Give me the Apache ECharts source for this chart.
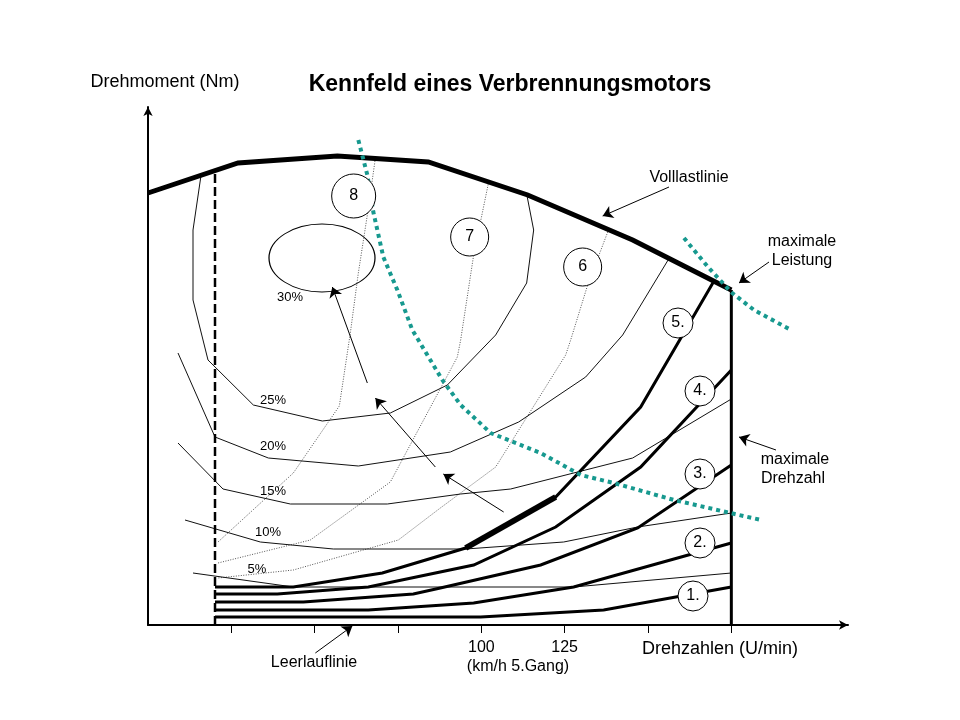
<!DOCTYPE html>
<html><head><meta charset="utf-8">
<script src="https://cdn.jsdelivr.net/npm/echarts@6/dist/echarts.min.js"></script>
<style>html,body{margin:0;padding:0;background:#fff}#c{width:960px;height:720px}</style>
</head><body><div id="c"></div>
<script>
// x: speed in km/h (5th gear), y: torque (relative units)
const tickValues = [25, 50, 75, 100, 125, 150, 175];
const labelValues = [100, 125];

const fullLoadX = [0, 27, 56.8, 84.1, 113.9, 145.4, 175];
const fullLoadY = [86.4, 92.4, 93.8, 92.6, 86, 77, 67];
const maxRpmX = [175, 175];
const maxRpmY = [0, 67];
const idleX = [20.1, 20.1];
const idleY = [0, 90.6];

const gear1X = [20.1, 99.8, 136.7, 175];
const gear1Y = [1.6, 1.6, 3, 7.6];
const gear2X = [20.1, 66.1, 97.7, 127.7, 175];
const gear2Y = [3, 3, 4.4, 7.6, 16.4];
const gear3X = [20.1, 46.6, 79.6, 87.7, 117.8, 146.9, 175];
const gear3Y = [4.6, 4.6, 6.2, 7.4, 12, 19.4, 32];
const gear4X = [20.1, 38.8, 66.1, 97.7, 122.3, 147.8, 175];
const gear4Y = [6.2, 6.2, 7.6, 12, 19.6, 31.6, 51];
const gear5X = [20.1, 43.6, 70.3, 95.3, 122.3, 147.8, 169.8];
const gear5Y = [7.6, 7.6, 10.4, 15.4, 25.6, 43.6, 68.8];
const highlightX = [95.3, 122.3];
const highlightY = [15.4, 25.6];

const eff5X = [13.5, 43.6, 127.7, 175];
const eff5Y = [10.4, 7.6, 7.6, 10.4];
const eff10X = [11.1, 33.7, 55.6, 95.3, 124.7, 146.9, 175];
const eff10Y = [21, 16.6, 15.2, 15.2, 16.6, 19.6, 22.4];
const eff15X = [9, 22.5, 42.7, 71.8, 93.8, 108.8, 145.4, 175];
const eff15Y = [36.4, 27.2, 24.2, 24.2, 26.2, 27.2, 33.4, 45.2];
const eff20X = [9, 20.1, 36.1, 63.1, 90.7, 111.2, 131.3, 142.4, 156.3];
const eff20Y = [54.4, 37.6, 33.4, 31.8, 34.6, 40.6, 49.6, 58, 73.3];
const eff25X = [15.9, 13.5, 13.5, 16.5, 18, 31.6, 52.3, 72.7, 89.8, 104.3, 113.6, 115.7, 113.6];
const eff25Y = [89.9, 79, 65, 57, 53, 44, 40.8, 42.4, 48, 58, 68.4, 79, 86.2];
const eff30Center = [52.2, 73.4];

const pow8X = [68.2, 65.8, 63.1, 60.7, 57.4, 43.6, 21];
const pow8Y = [93.3, 82, 70.4, 58.4, 43.8, 30.4, 16.6];
const pow7X = [102.2, 97.7, 93.8, 92.8, 72.7, 48.7, 21];
const pow7Y = [88.6, 74, 57, 53.6, 28.6, 17, 12.4];
const pow6X = [138.2, 131.9, 126.8, 125.3, 104.3, 87.7, 75.1, 43.6, 21];
const pow6Y = [79.1, 68, 57, 54, 31.6, 23.4, 17, 11, 9.4];

const teal1X = [63.1, 65.8, 67.6, 70.6, 74.8, 79.3, 88.3, 93.8, 102.8, 117.8, 129.8, 139.7, 157.8, 173.4, 183.9];
const teal1Y = [97, 90, 82.6, 73.6, 67, 59, 49, 44, 38.4, 34.4, 30, 28.4, 25, 22.6, 21];
const teal2X = [160.8, 168, 174.9, 181.8, 192.9];
const teal2Y = [77.4, 71.6, 66.6, 63, 59];

const circleNames = ['8', '7', '6', '5.', '4.', '3.', '2.', '1.'];
const circleX = [61.7, 96.5, 130.4, 159, 165.6, 165.6, 165.6, 163.5];
const circleY = [85.8, 77.6, 71.6, 60.4, 46.8, 30.2, 16.4, 5.8];

const arrowFrom = [[156.3, 87.6], [186.3, 72.6], [188.4, 35], [50.2, -5.6], [65.8, 48.4], [86.2, 31.6], [106.7, 22.6]];
const arrowTo = [[136.4, 81.8], [177.3, 68.4], [177.3, 37.6], [61.3, -0.2], [55.3, 67.6], [68.2, 45.4], [88.6, 30.2]];

const FONT = "'Liberation Sans', Arial, sans-serif";
const zip = (xs, ys) => xs.map((x, i) => [x, ys[i]]);
function curve(xs, ys, lineStyle, z) {
  return { type: 'line', data: zip(xs, ys), symbol: 'none', showSymbol: false, silent: true,
    lineStyle: Object.assign({ color: '#000', join: 'miter', opacity: 1 }, lineStyle), z: z || 2, animation: false };
}
const thin = { width: 1, color: '#111' };
const dotted = { width: 1, color: '#555', type: [1, 1.5] };
const gear = { width: 3, color: '#000' };
const teal = { width: 4, color: '#17998f', type: [4, 4], cap: 'butt' };

const chart = echarts.init(document.getElementById('c'));
function txt(text, x, y, size, weight) {
  return { type: 'text', x, y, z: 100, style: { text, font: (weight || 'normal') + ' ' + size + 'px ' + FONT, fill: '#000', align: 'center', verticalAlign: 'middle' } };
}
chart.setOption({
  animation: false,
  backgroundColor: '#fff',
  grid: { left: 148, top: 107, width: 700, height: 518 },
  xAxis: {
    type: 'value', min: 0, max: 210,
    axisLine: { show: true, onZero: false, symbol: ['none', 'arrow'], symbolSize: [7, 9], lineStyle: { color: '#000', width: 2 } },
    axisTick: { show: true, customValues: tickValues, length: 8, lineStyle: { color: '#000', width: 1 } },
    axisLabel: { show: true, customValues: labelValues, margin: 15, fontSize: 16, color: '#000', fontFamily: FONT },
    splitLine: { show: false }
  },
  yAxis: {
    type: 'value', min: 0, max: 103.6,
    axisLine: { show: true, symbol: ['none', 'arrow'], symbolSize: [7, 9], lineStyle: { color: '#000', width: 2 } },
    axisTick: { show: false }, axisLabel: { show: false }, splitLine: { show: false }
  },
  series: [
    curve(pow8X, pow8Y, dotted), curve(pow7X, pow7Y, dotted), curve(pow6X, pow6Y, dotted),
    curve(eff5X, eff5Y, thin), curve(eff10X, eff10Y, thin), curve(eff15X, eff15Y, thin),
    curve(eff20X, eff20Y, thin), curve(eff25X, eff25Y, thin),
    curve(gear1X, gear1Y, gear, 3), curve(gear2X, gear2Y, gear, 3), curve(gear3X, gear3Y, gear, 3),
    curve(gear4X, gear4Y, gear, 3), curve(gear5X, gear5Y, gear, 3),
    curve(highlightX, highlightY, { width: 6, color: '#000', cap: 'butt' }, 3),
    curve(idleX, idleY, { width: 2.5, color: '#000', type: [9, 4] }, 3),
    curve(maxRpmX, maxRpmY, { width: 3, color: '#000' }, 3),
    curve(fullLoadX, fullLoadY, { width: 5, color: '#000' }, 4),
    curve(teal1X, teal1Y, teal, 4), curve(teal2X, teal2Y, teal, 4),
    {
      type: 'lines', coordinateSystem: 'cartesian2d', clip: false, silent: true, z: 5,
      symbol: ['none', 'arrow'], symbolSize: [7, 10],
      lineStyle: { color: '#000', width: 1, opacity: 1 },
      data: arrowFrom.map((f, i) => ({ coords: [f, arrowTo[i]] }))
    },
    {
      type: 'scatter', silent: true, z: 6,
      symbol: 'circle', symbolSize: [106, 68],
      itemStyle: { color: 'rgba(0,0,0,0)', borderColor: '#000', borderWidth: 1, opacity: 1 },
      data: [eff30Center]
    },
    {
      type: 'scatter', silent: true, z: 7,
      symbol: 'circle',
      symbolSize: (v, p) => p.dataIndex === 0 ? 44 : (p.dataIndex < 3 ? 38 : 30),
      itemStyle: { color: '#fff', borderColor: '#000', borderWidth: 1, opacity: 1 },
      label: { show: true, position: 'inside', formatter: '{b}', fontSize: 16, color: '#000', fontFamily: FONT },
      data: circleNames.map((n, i) => ({ name: n, value: [circleX[i], circleY[i]] }))
    }
  ],
  graphic: [
    txt('Drehmoment (Nm)', 165, 82, 18),
    txt('Kennfeld eines Verbrennungsmotors', 510, 85, 23, 'bold'),
    txt('Drehzahlen (U/min)', 720, 649, 18),
    txt('(km/h 5.Gang)', 518, 667, 16),
    txt('Leerlauflinie', 314, 663, 16),
    txt('Volllastlinie', 689, 178, 16),
    txt('maximale', 802, 242, 16),
    txt('Leistung', 802, 261, 16),
    txt('maximale', 795, 460, 16),
    txt('Drehzahl', 793, 479, 16),
    txt('30%', 290, 297, 13),
    txt('25%', 273, 400, 13),
    txt('20%', 273, 446, 13),
    txt('15%', 273, 491, 13),
    txt('10%', 268, 532, 13),
    txt('5%', 257, 569, 13)
  ]
});
</script>
</body></html>
